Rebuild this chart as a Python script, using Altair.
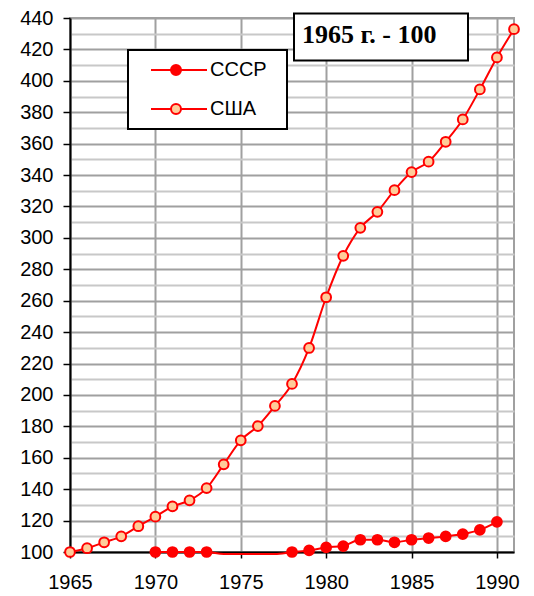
import altair as alt
import pandas as pd

# ---- data ----
usa_years = list(range(1965, 1992))
usa_values = [100, 102.4, 106.2, 110, 116.4, 122.5, 129, 132.9, 140.7, 155.8,
              171.1, 180.2, 193, 207, 229.9, 262.2, 288.6, 306.4, 316.6, 330.4,
              341.9, 348.5, 361.2, 375.4, 394.5, 414.9, 432.9]
usa_marker = [True] * len(usa_years)

ussr_years = list(range(1970, 1991))
ussr_values = [100, 100, 100, 100, 98.7, 98.7, 98.7, 98.7, 100, 101, 102.9,
               103.8, 107.8, 107.8, 106.2, 107.8, 108.9, 109.9, 111.4, 114.1, 119.2]
ussr_marker = [True] * 4 + [False] * 4 + [True] * 13

series_names = ["СССР", "США"]
series_fill = ["#FF0000", "#FFCC99"]
x_ticks = [1965, 1970, 1975, 1980, 1985, 1990]
y_ticks = list(range(100, 441, 10))
title_text = "1965 г. - 100"

rows = []
for yr, v, m in zip(ussr_years, ussr_values, ussr_marker):
    rows.append({"year": yr, "value": v, "series": series_names[0], "show": m})
for yr, v, m in zip(usa_years, usa_values, usa_marker):
    rows.append({"year": yr, "value": v, "series": series_names[1], "show": m})
df = pd.DataFrame(rows)

xscale = alt.Scale(domain=[1965, 1991], nice=False, zero=False)
yscale = alt.Scale(domain=[100, 440], nice=False, zero=False)

x_axis = alt.Axis(values=x_ticks, format="d", title=None, grid=True,
                  gridColor="#a0a0a0", gridWidth=2, tickSize=6, tickColor="black",
                  tickWidth=1.5,
                  labelPadding=14, labelFlush=False, labelOverlap=False,
                  domainColor="black", domainWidth=2)
y_axis = alt.Axis(values=y_ticks, title=None, grid=True, labelOverlap=False,
                  labelExpr="datum.value % 20 == 0 ? datum.label : ''",
                  gridColor={"condition": {"test": "datum.value % 20 == 0", "value": "#a0a0a0"},
                             "value": "#c8c8c8"},
                  tickColor={"condition": {"test": "datum.value % 20 == 0", "value": "black"},
                             "value": "transparent"},
                  gridWidth=2, tickSize=7, tickWidth=1.5, labelPadding=10,
                  domainColor="black", domainWidth=2)

base = alt.Chart(df)

lines = base.mark_line(color="#FF0000", strokeWidth=2, interpolate="monotone", clip=False).encode(
    x=alt.X("year:Q", scale=xscale, axis=x_axis),
    y=alt.Y("value:Q", scale=yscale, axis=y_axis),
    detail="series:N",
)

legend_path = ("M0.6,0H4.6M6.6,0H11.8M6.6,0A1,1 0 1,1 4.6,0A1,1 0 1,1 6.6,0Z M25,0")

points = base.mark_point(filled=True, size=95, stroke="#FF0000", strokeWidth=2,
                         opacity=1, shape="circle", clip=False).encode(
    x=alt.X("year:Q", scale=xscale, axis=x_axis),
    y=alt.Y("value:Q", scale=yscale, axis=y_axis),
    fill=alt.Fill("series:N",
                  scale=alt.Scale(domain=series_names, range=series_fill),
                  legend=alt.Legend(title=None, orient="none", legendX=58, legendY=32,
                                    symbolType=legend_path, symbolSize=100,
                                    labelOffset=52)),
).transform_filter("datum.show")

box_df = pd.DataFrame({"t": [title_text]})
box = alt.Chart(box_df).mark_rect(fill="white", stroke="black", strokeWidth=2).encode(
    x=alt.value(224), x2=alt.value(398), y=alt.value(-4.5), y2=alt.value(42.5)
)
box_text = alt.Chart(box_df).mark_text(
    font="Times New Roman, Liberation Serif", fontSize=26, fontWeight="bold",
    align="left", baseline="alphabetic", color="black"
).encode(x=alt.value(232), y=alt.value(24.5), text="t:N")

chart = alt.layer(lines, points, box, box_text).properties(
    width=444, height=534,
    autosize=alt.AutoSizeParams(type="none"),
    padding={"left": 62, "top": 10, "right": 12, "bottom": 43},
).configure_view(
    stroke="#a0a0a0", strokeWidth=2
).configure_axis(
    labelFont="Arial, Liberation Sans", labelFontSize=20, labelColor="black",
    labelOverlap=False
).configure_legend(
    fillColor="white", strokeColor="black", strokeWidth=2, padding=10,
    labelFont="Arial, Liberation Sans", labelFontSize=20, labelColor="black",
    symbolStrokeColor="#FF0000", symbolStrokeWidth=2, symbolOpacity=1,
    rowPadding=19,
)

chart.save("out.html", embed_options={"renderer": "svg", "actions": False})
